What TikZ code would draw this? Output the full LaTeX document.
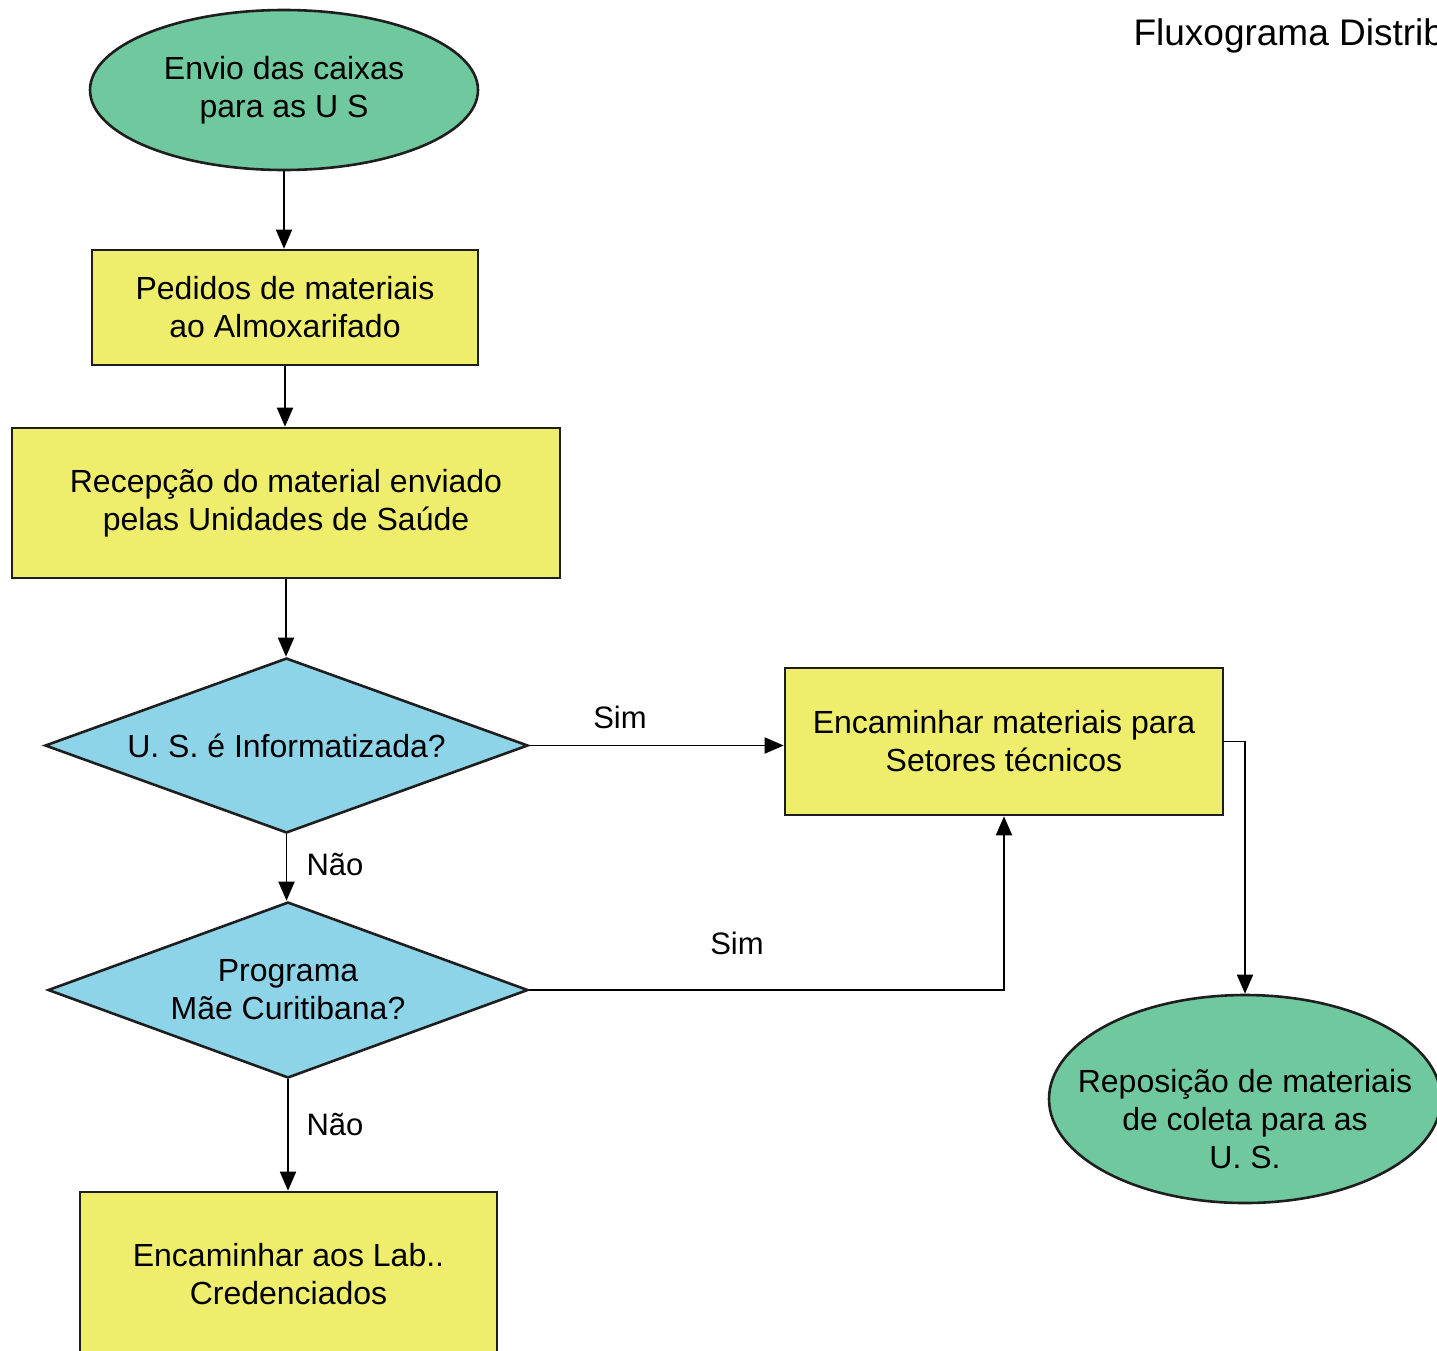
\documentclass[tikz,border=0pt]{standalone}
\usepackage{fontspec}
\setmainfont{Liberation Sans}
\usetikzlibrary{shapes.geometric,arrows.meta}
\definecolor{termfill}{HTML}{70C89E}
\definecolor{procfill}{HTML}{EEEE6C}
\definecolor{decfill}{HTML}{8ED4E8}
\definecolor{edgecol}{HTML}{1E1E1E}

\begin{document}
\begin{tikzpicture}[x=1pt,y=-1pt,
  txt/.style={font=\fontsize{32}{38}\selectfont, align=center, text=black},
  terminal/.style={ellipse, draw=edgecol, line width=2.6pt, fill=termfill, inner sep=0pt},
  procbox/.style={rectangle, draw=edgecol, line width=2.6pt, fill=procfill, inner sep=0pt, txt},
  decision/.style={diamond, aspect=2.75, draw=edgecol, line width=2.6pt, fill=decfill, inner sep=0pt, txt},
  flow/.style={draw=black, line width=1.8pt, -{Triangle[length=19pt,width=16pt]}},
  lbl/.style={font=\fontsize{31}{36}\selectfont, text=black}
]
\useasboundingbox (0,0) rectangle (1437,1350);
\clip (0,0) rectangle (1437,1350);

% title
\node[anchor=base west, font=\fontsize{37}{44}\selectfont] (title) at (1130,45) {Fluxograma Distrib};

% main column
\node[terminal, minimum width=388pt, minimum height=160pt, txt] (start) at (284,90) {Envio das caixas\\para as U S};
\node[procbox, minimum width=386pt, minimum height=115pt] (pedidos) at (285,307.5) {Pedidos de materiais\\ao Almoxarifado};
\node[procbox, minimum width=548pt, minimum height=150pt] (recep) at (286,503) {Recepção do material enviado\\pelas Unidades de Saúde};
\node[decision, minimum width=483pt, minimum height=175pt] (inform) at (286.5,745.5) {U. S. é Informatizada?};
\node[decision, minimum width=480pt, minimum height=176pt] (mae) at (288,990) {Programa\\Mãe Curitibana?};
\node[procbox, minimum width=417pt, minimum height=164pt] (lab) at (288.5,1274) {Encaminhar aos Lab..\\Credenciados};

% right column
\node[procbox, minimum width=438pt, minimum height=147pt] (setores) at (1004,741.5) {Encaminhar materiais para\\Setores técnicos};
\node[terminal, minimum width=392pt, minimum height=208pt] (repos) at (1245,1099) {};
\node[txt] (repostxt) at (1245,1119) {Reposição de materiais\\de coleta para as\\U. S.};

% connectors
\draw[flow] (start.south) -- (start.south |- pedidos.north);
\draw[flow] (pedidos.south) -- (pedidos.south |- recep.north);
\draw[flow] (recep.south) -- (recep.south |- inform.north);
\draw[flow] (inform.south) -- (inform.south |- mae.north);
\draw[flow] (mae.south) -- (mae.south |- lab.north);
\draw[flow] (inform.east) -- (inform.east -| setores.west);
\draw[flow] (mae.east) -| (setores.south);
\draw[flow] (setores.east) -| (repos.north);

% branch labels
\node[lbl] (sim1) at (620,717) {Sim};
\node[lbl] (sim2) at (737,943) {Sim};
\node[lbl] (nao1) at (335,865) {Não};
\node[lbl] (nao2) at (335,1125) {Não};
\end{tikzpicture}
\end{document}
